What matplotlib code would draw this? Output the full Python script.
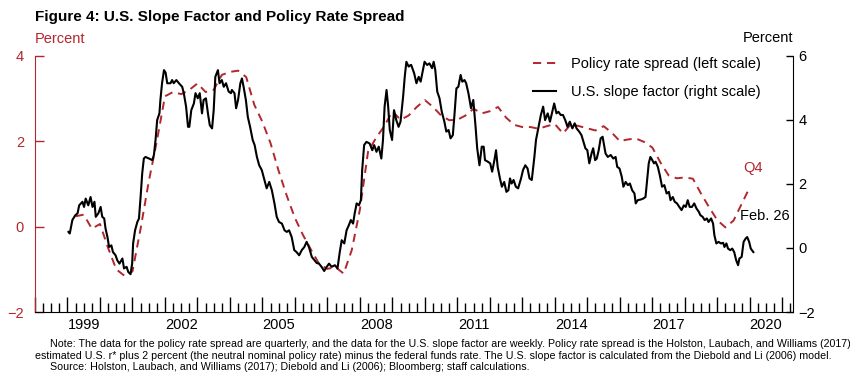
import numpy as np
import matplotlib
matplotlib.use("Agg")
import matplotlib.pyplot as plt

plt.rcParams["font.family"] = ["Liberation Sans", "DejaVu Sans"]

RED = "#B3262E"

# Policy rate spread, quarterly (left scale, percent)
spread_t = np.arange(1999.25, 2020.01, 0.25)
spread_v = [0.24, 0.28, -0.05,
            0.06, -0.5, -1.0, -1.15,
            -1.05, -0.05, 1.05, 2.0,
            3.05, 3.15, 3.1, 3.2,
            3.35, 3.15, 3.2, 3.55,
            3.62, 3.65, 3.5, 2.85,
            2.45, 1.95, 1.3, 0.72,
            0.2, -0.2, -0.55, -0.88,
            -0.99, -0.95, -1.1, -0.55,
            0.4, 1.75, 2.08, 2.35,
            2.7, 2.5, 2.6, 2.8,
            2.96, 2.8, 2.6, 2.49,
            2.5, 2.6, 2.76, 2.65,
            2.7, 2.8, 2.55, 2.38,
            2.33, 2.33, 2.29, 2.35,
            2.4, 2.18, 2.4, 2.35,
            2.3, 2.25, 2.35, 2.2,
            2.0, 2.04, 2.06, 1.98,
            1.85, 1.5, 1.2, 1.13,
            1.15, 1.12, 0.77, 0.45,
            0.15, -0.02, 0.14, 0.53,
            0.92]

# U.S. slope factor (right scale, percent)
slope_t = [1999.03, 1999.07, 1999.15, 1999.24, 1999.31, 1999.36, 1999.46, 1999.51, 1999.56, 1999.64,
           1999.71, 1999.77, 1999.83, 1999.87, 1999.95, 2000.02, 2000.07, 2000.13, 2000.17, 2000.23,
           2000.28, 2000.35, 2000.40, 2000.48, 2000.53, 2000.60, 2000.69, 2000.74, 2000.82, 2000.87,
           2000.94, 2000.99, 2001.02, 2001.08, 2001.15, 2001.20, 2001.25, 2001.30, 2001.35, 2001.40,
           2001.51, 2001.61, 2001.66, 2001.71, 2001.76, 2001.83, 2001.86, 2001.91, 2001.97, 2002.02,
           2002.07, 2002.17, 2002.22, 2002.27, 2002.35, 2002.43, 2002.53, 2002.58, 2002.65, 2002.71,
           2002.75, 2002.81, 2002.89, 2002.94, 2003.01, 2003.07, 2003.14, 2003.19, 2003.26, 2003.33,
           2003.38, 2003.45, 2003.50, 2003.55, 2003.63, 2003.68, 2003.75, 2003.81, 2003.88, 2003.96,
           2004.03, 2004.06, 2004.14, 2004.19, 2004.25, 2004.32, 2004.37, 2004.42, 2004.49, 2004.55,
           2004.62, 2004.70, 2004.76, 2004.83, 2004.90, 2004.98, 2005.06, 2005.13, 2005.21, 2005.29,
           2005.37, 2005.44, 2005.51, 2005.60, 2005.68, 2005.75, 2005.82, 2005.90, 2005.98, 2006.05,
           2006.13, 2006.21, 2006.29, 2006.36, 2006.43, 2006.52, 2006.60, 2006.67, 2006.74, 2006.82,
           2006.90, 2006.98, 2007.05, 2007.13, 2007.23, 2007.31, 2007.38, 2007.44, 2007.52, 2007.59,
           2007.66, 2007.72, 2007.79, 2007.84, 2007.90, 2007.97, 2008.03, 2008.07, 2008.13, 2008.20,
           2008.30, 2008.38, 2008.44, 2008.51, 2008.58, 2008.66, 2008.71, 2008.76, 2008.82, 2008.87,
           2008.92, 2008.99, 2009.05, 2009.12, 2009.19, 2009.25, 2009.33, 2009.38, 2009.43, 2009.50,
           2009.56, 2009.58, 2009.67, 2009.74, 2009.81, 2009.87, 2009.94, 2009.99, 2010.07, 2010.14,
           2010.22, 2010.27, 2010.32, 2010.38, 2010.45, 2010.52, 2010.60, 2010.66, 2010.73, 2010.79,
           2010.86, 2010.91, 2010.97, 2011.03, 2011.10, 2011.15, 2011.22, 2011.27, 2011.34, 2011.42,
           2011.49, 2011.56, 2011.61, 2011.68, 2011.75, 2011.81, 2011.85, 2011.94, 2012.01, 2012.07,
           2012.14, 2012.19, 2012.24, 2012.31, 2012.37, 2012.44, 2012.51, 2012.57, 2012.62, 2012.67,
           2012.73, 2012.80, 2012.87, 2012.96, 2013.02, 2013.09, 2013.16, 2013.22, 2013.29, 2013.37,
           2013.42, 2013.49, 2013.57, 2013.64, 2013.70, 2013.78, 2013.85, 2013.91, 2013.98, 2014.05,
           2014.11, 2014.18, 2014.25, 2014.32, 2014.39, 2014.46, 2014.54, 2014.61, 2014.67, 2014.75,
           2014.82, 2014.88, 2014.94, 2015.00, 2015.06, 2015.13, 2015.18, 2015.24, 2015.29, 2015.35,
           2015.41, 2015.47, 2015.56, 2015.63, 2015.72, 2015.80, 2015.87, 2015.92, 2015.99, 2016.06,
           2016.11, 2016.18, 2016.25, 2016.31, 2016.38, 2016.45, 2016.49, 2016.55, 2016.64, 2016.72,
           2016.79, 2016.84, 2016.89, 2016.94, 2017.00, 2017.05, 2017.10, 2017.17, 2017.23, 2017.30,
           2017.37, 2017.44, 2017.51, 2017.56, 2017.63, 2017.69, 2017.76, 2017.83, 2017.90, 2017.97,
           2018.03, 2018.09, 2018.15, 2018.22, 2018.29, 2018.36, 2018.43, 2018.48, 2018.55, 2018.61,
           2018.68, 2018.73, 2018.81, 2018.87, 2018.91, 2018.97, 2019.04, 2019.11, 2019.18, 2019.22,
           2019.28, 2019.33, 2019.40, 2019.46, 2019.52, 2019.58, 2019.64, 2019.68, 2019.75, 2019.81,
           2019.87, 2019.92, 2019.98, 2020.03, 2020.11]
slope_v = [0.50, 0.45, 0.87, 1.02, 1.08, 1.33, 1.44, 1.28, 1.54, 1.33,
           1.59, 1.28, 1.44, 0.97, 1.08, 1.28, 0.97, 0.92, 0.61, 0.34,
           0.03, 0.08, -0.13, -0.23, -0.38, -0.49, -0.33, -0.64, -0.59, -0.75,
           -0.82, -0.49, 0.14, 0.55, 0.81, 0.92, 1.59, 2.33, 2.79, 2.84,
           2.79, 2.74, 2.90, 3.37, 3.99, 4.20, 4.62, 5.14, 5.55, 5.47,
           5.14, 5.14, 5.24, 5.14, 5.24, 5.14, 5.03, 4.83, 4.41, 3.78,
           3.78, 4.30, 4.51, 4.83, 4.67, 4.83, 4.20, 4.62, 4.67, 4.15,
           3.83, 3.73, 4.30, 5.34, 5.55, 5.14, 5.24, 5.03, 5.14, 4.88,
           4.83, 4.93, 4.83, 4.36, 4.62, 5.14, 5.29, 5.03, 4.62, 4.09,
           3.78, 3.37, 3.21, 2.84, 2.58, 2.43, 2.12, 1.86, 2.06, 1.80,
           1.39, 0.97, 0.81, 0.76, 0.55, 0.50, 0.55, 0.34, -0.07, -0.13,
           -0.23, -0.07, 0.03, 0.19, 0.03, -0.28, -0.38, -0.47, -0.49, -0.59,
           -0.72, -0.59, -0.49, -0.59, -0.54, -0.64, -0.13, 0.24, 0.14, 0.55,
           0.71, 0.87, 0.76, 1.08, 1.39, 1.33, 1.49, 2.43, 3.21, 3.31,
           3.26, 3.05, 3.21, 3.00, 3.16, 2.79, 3.37, 4.41, 4.93, 4.41,
           3.68, 3.37, 4.30, 3.99, 3.78, 3.94, 4.72, 5.34, 5.81, 5.66,
           5.71, 5.71, 5.45, 5.14, 5.34, 5.19, 5.55, 5.81, 5.71, 5.76,
           5.61, 5.81, 5.55, 4.88, 4.67, 4.25, 3.94, 3.63, 3.68, 3.42,
           3.52, 4.15, 4.98, 5.03, 5.40, 5.19, 5.24, 5.14, 4.83, 4.36,
           4.62, 3.78, 3.11, 2.58, 3.16, 3.16, 2.74, 2.69, 2.64, 2.38,
           2.74, 3.05, 2.53, 2.17, 1.91, 2.06, 1.75, 1.80, 2.17, 2.01,
           2.12, 1.91, 1.86, 2.17, 2.43, 2.58, 2.48, 2.17, 2.12, 2.84,
           3.37, 3.73, 4.15, 4.41, 3.99, 4.20, 3.94, 4.20, 4.51, 4.20,
           4.25, 4.15, 4.15, 3.99, 3.78, 3.94, 3.73, 3.89, 3.73, 3.63,
           3.52, 3.31, 3.11, 3.05, 2.64, 2.95, 3.11, 2.74, 2.79, 3.05,
           3.42, 3.47, 2.95, 2.84, 2.90, 2.79, 2.84, 2.53, 2.48, 2.22,
           1.91, 2.06, 1.96, 2.01, 1.80, 1.70, 1.39, 1.49, 1.51, 1.54,
           1.59, 2.12, 2.64, 2.84, 2.74, 2.64, 2.69, 2.53, 2.27, 1.91,
           1.96, 1.70, 1.75, 1.49, 1.59, 1.44, 1.39, 1.28, 1.18, 1.33,
           1.28, 1.49, 1.28, 1.28, 1.39, 1.23, 1.13, 1.02, 0.97, 0.87,
           0.92, 0.81, 0.92, 0.76, 0.40, 0.14, 0.19, 0.14, 0.16, 0.03,
           0.14, -0.02, -0.07, -0.02, -0.13, -0.38, -0.54, -0.33, -0.28, 0.19,
           0.29, 0.34, 0.19, -0.02, -0.13]

year_labels = [1999, 2002, 2005, 2008, 2011, 2014, 2017, 2020]

title = "Figure 4: U.S. Slope Factor and Policy Rate Spread"
notes = ["Note: The data for the policy rate spread are quarterly, and the data for the U.S. slope factor are weekly. "
         "Policy rate spread is the Holston, Laubach, and Williams (2017)",
         "estimated U.S. r* plus 2 percent (the neutral nominal policy rate) minus the federal funds rate. "
         "The U.S. slope factor is calculated from the Diebold and Li (2006) model.",
         "Source: Holston, Laubach, and Williams (2017); Diebold and Li (2006); Bloomberg; staff calculations."]

W, H = 850, 377
fig = plt.figure(figsize=(W / 100, H / 100), dpi=100)
ax = fig.add_axes([35 / W, 1 - 312 / H, (793 - 35) / W, (312 - 55.7) / H])
ax2 = ax.twinx()

l1, = ax.plot(spread_t, spread_v, color=RED, lw=1.4, dashes=(4.2, 3.0),
              label="Policy rate spread (left scale)")
l2, = ax2.plot(slope_t, slope_v, color="black", lw=1.5,
               label="U.S. slope factor (right scale)")

ax.set_xlim(1998.04, 2021.33)
ax.set_ylim(-2, 4)
ax2.set_ylim(-2, 6)

for a in (ax, ax2):
    a.spines["top"].set_visible(False)
ax.spines["right"].set_visible(False)
ax2.spines["left"].set_visible(False)
ax2.spines["bottom"].set_visible(False)
ax.spines["left"].set_color(RED)
ax.spines["bottom"].set_color("black")
ax2.spines["right"].set_color("black")

ax.set_yticks([-2, 0, 2, 4])
ax.tick_params(axis="y", direction="in", length=6.5, width=1, colors=RED,
               labelsize=10.5, pad=8)
ax2.set_yticks([-2, 0, 2, 4, 6])
ax2.tick_params(axis="y", direction="in", length=5, width=1, colors="black",
                labelsize=10.5, pad=4)

ax.set_xticks(np.arange(1998, 2022))
ax.set_xticks(np.arange(1998, 2021.5, 0.25), minor=True)
ax.tick_params(axis="x", which="major", direction="in", length=11, width=1,
               labelbottom=False)
ax.tick_params(axis="x", which="minor", direction="in", length=6.5, width=1)
for yr in year_labels:
    ax.text(yr + 0.5, -0.022, str(yr), transform=ax.get_xaxis_transform(),
            ha="center", va="top", fontsize=10.5)

fig.legend([l1, l2], [l1.get_label(), l2.get_label()], loc="upper left",
           bbox_to_anchor=(533 / W, 1 - 57 / H), frameon=False, fontsize=10.5,
           handlelength=1.6, handletextpad=1.0, labelspacing=0.95,
           borderpad=0, borderaxespad=0)

fig.text(35 / W, 1 - 17 / H, title, fontsize=11, fontweight="bold",
         ha="left", va="center")
fig.text(35 / W, 1 - 39 / H, "Percent", color=RED, fontsize=10.5,
         ha="left", va="center")
fig.text(793 / W, 1 - 38 / H, "Percent", fontsize=10.5, ha="right", va="center")
fig.text(753 / W, 1 - 168 / H, "Q4", color=RED, fontsize=10.5,
         ha="center", va="center")
fig.text(740 / W, 1 - 216 / H, "Feb. 26", fontsize=10.5, ha="left", va="center")

fig.text(50 / W, 1 - 344 / H, notes[0], fontsize=7.7, ha="left", va="center")
fig.text(35 / W, 1 - 355.7 / H, notes[1], fontsize=7.7, ha="left", va="center")
fig.text(50 / W, 1 - 366.7 / H, notes[2], fontsize=7.7, ha="left", va="center")

fig.savefig("out.png", dpi=100)
